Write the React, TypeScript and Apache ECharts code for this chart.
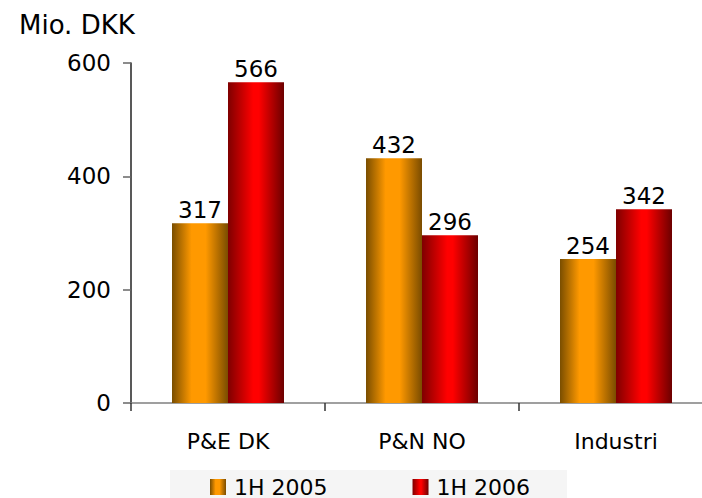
import React, { useEffect, useRef } from "react";
import * as echarts from "echarts";

const categories = ["P&E DK", "P&N NO", "Industri"];
const seriesNames = ["1H 2005", "1H 2006"];
const values2005 = [317, 432, 254];
const values2006 = [566, 296, 342];
const yTicks = [0, 200, 400, 600];
const unitLabel = "Mio. DKK";

const FONT = "DejaVu Sans";

function grad(stops: [number, string][]) {
  return new echarts.graphic.LinearGradient(
    0,
    0,
    1,
    0,
    stops.map(([offset, color]) => ({ offset, color }))
  );
}

export default function App() {
  const ref = useRef<HTMLDivElement>(null);

  useEffect(() => {
    document.body.style.margin = "0";
    document.body.style.overflow = "hidden";
    if (!ref.current) return;
    const chart = echarts.init(ref.current, undefined, { renderer: "svg" });
    const orange = grad([
      [0, "#7a4e00"],
      [0.35, "#ff9900"],
      [0.6, "#ff9900"],
      [1, "#7a4c00"],
    ]);
    const red = grad([
      [0, "#7f0000"],
      [0.45, "#ff0000"],
      [0.55, "#ff0000"],
      [1, "#6c0000"],
    ]);
    const labelStyle = {
      show: true,
      position: "top",
      distance: 2,
      fontFamily: FONT,
      fontSize: 23,
      color: "#000",
    };
    chart.setOption({
      animation: false,
      backgroundColor: "#ffffff",
      title: {
        text: unitLabel,
        left: 14,
        top: 7,
        textStyle: {
          fontFamily: FONT,
          fontSize: 26,
          fontWeight: "normal",
          color: "#000",
        },
      },
      graphic: [
        {
          type: "rect",
          left: 170,
          top: 470,
          z: -1,
          shape: { width: 397, height: 40 },
          style: { fill: "#f5f5f5" },
        },
      ],
      grid: { left: 131, top: 63, width: 582, height: 340, containLabel: false },
      legend: {
        data: seriesNames,
        left: 170,
        top: 476,
        padding: [0, 33, 0, 40],
        itemWidth: 16,
        itemHeight: 16,
        itemGap: 85,
        icon: "rect",
        textStyle: {
          fontFamily: FONT,
          fontSize: 22,
          color: "#000",
          padding: [0, 0, 0, 3],
        },
      },
      xAxis: {
        type: "category",
        data: categories,
        axisLine: { show: true, lineStyle: { color: "#808080", width: 1.5 } },
        axisTick: { show: true, length: 8, lineStyle: { color: "#333", width: 1.5 } },
        axisLabel: {
          fontFamily: FONT,
          fontSize: 22,
          color: "#000",
          margin: 27,
        },
      },
      yAxis: {
        type: "value",
        min: yTicks[0],
        max: yTicks[yTicks.length - 1],
        interval: yTicks[1] - yTicks[0],
        splitLine: { show: false },
        axisLine: { show: true, lineStyle: { color: "#222", width: 1.5 } },
        axisTick: { show: true, length: 8, lineStyle: { color: "#666", width: 1.5 } },
        axisLabel: {
          fontFamily: FONT,
          fontSize: 23,
          color: "#000",
          margin: 20,
        },
      },
      series: [
        {
          name: seriesNames[0],
          type: "bar",
          data: values2005,
          barWidth: 56,
          barGap: "0%",
          itemStyle: { color: orange },
          label: labelStyle,
        },
        {
          name: seriesNames[1],
          type: "bar",
          data: values2006,
          barWidth: 56,
          barGap: "0%",
          itemStyle: { color: red },
          label: labelStyle,
        },
      ],
    });
    return () => chart.dispose();
  }, []);

  return (
    <div
      ref={ref}
      style={{ position: "fixed", left: 0, top: 0, width: 730, height: 498 }}
    />
  );
}
